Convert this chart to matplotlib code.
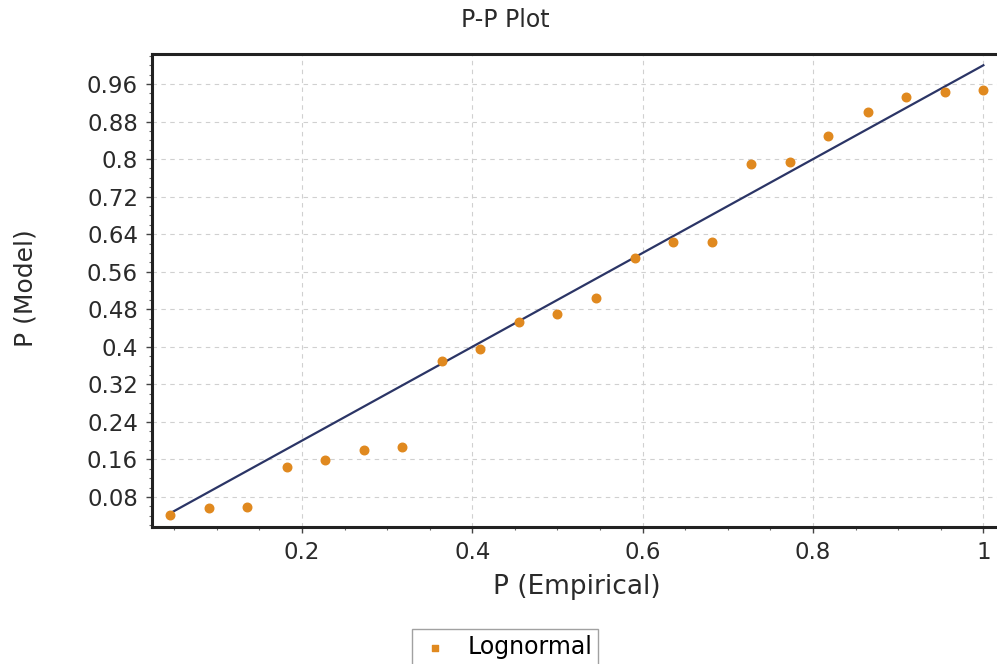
import matplotlib
matplotlib.use("Agg")
import matplotlib.pyplot as plt
from matplotlib.ticker import MultipleLocator, FuncFormatter

plt.rcParams['font.family'] = ['DejaVu Sans']

p_empirical = [0.045, 0.091, 0.136, 0.182, 0.227, 0.273, 0.318, 0.364, 0.409, 0.455, 0.500,
               0.545, 0.591, 0.636, 0.682, 0.727, 0.773, 0.818, 0.864, 0.909, 0.955, 1.000]
p_model = [0.041, 0.056, 0.059, 0.144, 0.158, 0.181, 0.187, 0.369, 0.396, 0.452, 0.470,
           0.505, 0.589, 0.624, 0.623, 0.789, 0.794, 0.849, 0.901, 0.933, 0.942, 0.947]
ref_line = [0.045, 1.0]
x_ticks = [0.2, 0.4, 0.6, 0.8, 1.0]
y_ticks = [0.08, 0.16, 0.24, 0.32, 0.4, 0.48, 0.56, 0.64, 0.72, 0.8, 0.88, 0.96]

W, H = 997, 664
fig = plt.figure(figsize=(W / 100, H / 100), dpi=100)
ax = fig.add_axes([152 / W, 1 - 527 / H, 1 - 152 / W, (527 - 54) / H])

ax.grid(True, which='major', color='#d0d0d0', linestyle=(0, (4, 4)), linewidth=0.8)
ax.plot(ref_line, ref_line, color='#2b3566', lw=1.6, zorder=2)
ax.scatter(p_empirical, p_model, s=38, color='#e0891f', zorder=3)

ax.set_xlim(0.024, 1.016)
ax.set_ylim(0.016, 1.024)
ax.set_xticks(x_ticks)
ax.set_yticks(y_ticks)
ax.xaxis.set_minor_locator(MultipleLocator(0.05))
ax.yaxis.set_minor_locator(MultipleLocator(0.02))
fmt = FuncFormatter(lambda v, pos: '%g' % round(v, 2))
ax.xaxis.set_major_formatter(fmt)
ax.yaxis.set_major_formatter(fmt)
ax.tick_params(which='major', length=4, width=1, labelsize=16.5, colors='#444444',
               labelcolor='#2a2a2a', pad=6)
ax.tick_params(which='minor', length=2.5, width=0.8, colors='#666666')

for side in ['left', 'bottom', 'top']:
    ax.spines[side].set_linewidth(2.2)
    ax.spines[side].set_color('#222222')
ax.spines['right'].set_visible(False)

fig.text(505 / W, 1 - 20 / H, 'P-P Plot', fontsize=17, ha='center', va='center',
         color='#2a2a2a')
ax.set_xlabel('P (Empirical)', fontsize=19, color='#2a2a2a', va='center')
ax.xaxis.set_label_coords(577 / W, 1 - 587 / H, transform=fig.transFigure)
ax.set_ylabel('P (Model)', fontsize=18, color='#2a2a2a', va='center')
ax.yaxis.set_label_coords(25 / W, 1 - 288 / H, transform=fig.transFigure)

# legend entry
ax.scatter([], [], s=22, marker='s', color='#e0891f', label='Lognormal')
fig.legend(loc='upper center', bbox_to_anchor=(505 / W, 1 - 629 / H), frameon=True,
           fancybox=False, edgecolor='#8a8a8a', fontsize=17, handlelength=1.5,
           handletextpad=0.6, borderpad=0.25, borderaxespad=0, scatterpoints=1)

fig.savefig('out.png', dpi=100)
